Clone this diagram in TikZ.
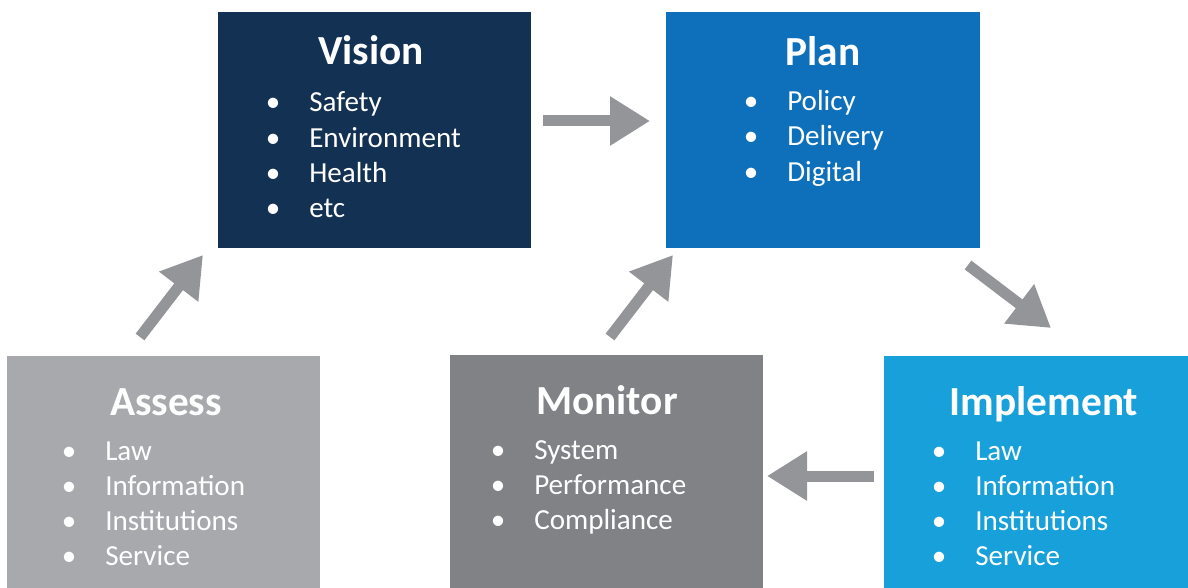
\documentclass[tikz,border=0pt]{standalone}
\usepackage{fontspec}
\setmainfont{Carlito}
\usetikzlibrary{arrows.meta}

\definecolor{visionc}{HTML}{133153}
\definecolor{planc}{HTML}{0E70BA}
\definecolor{implc}{HTML}{18A0DB}
\definecolor{monc}{HTML}{808285}
\definecolor{assc}{HTML}{A7A9AC}
\definecolor{arrc}{HTML}{939598}

\tikzset{
  panel/.style={inner sep=0pt, outer sep=0pt, anchor=north west, draw=none},
  heading/.style={text=white, inner sep=0pt, anchor=base,
    font=\fontsize{31}{36}\selectfont\bfseries},
  itemtext/.style={text=white, inner sep=0pt, anchor=base west,
    font=\fontsize{21.8}{26}\selectfont},
  itemdot/.style={text=white, inner sep=0pt, anchor=base,
    font=\fontsize{21.8}{26}\selectfont},
  flow/.style={draw=arrc, line width=8.25pt,
    -{Triangle[width=35pt,length=30pt]}},
}

% one bullet line: name, bullet x, baseline y, text
\newcommand\listline[4]{%
  \node[itemdot] (#1-dot) at (#2,#3) {\textbullet};
  \node[itemtext] (#1) at (#2+36,#3) {#4};
}

\begin{document}
\begin{tikzpicture}[x=0.75pt,y=-0.75pt]
\useasboundingbox (0,0) rectangle (1188,588);

% panels
\node[panel, fill=visionc, minimum width=234.75pt, minimum height=177pt] (vision) at (218,12) {};
\node[panel, fill=planc,   minimum width=235.5pt,  minimum height=177pt] (plan) at (666,12) {};
\node[panel, fill=implc,   minimum width=228pt,    minimum height=174pt] (implement) at (884,356) {};
\node[panel, fill=monc,    minimum width=234.75pt, minimum height=174.75pt] (monitor) at (450,355) {};
\node[panel, fill=assc,    minimum width=234.75pt, minimum height=174pt] (assess) at (7,356) {};

% Vision
\node[heading] (vision-t) at (371,65) {Vision};
\listline{v1}{273}{112}{Safety}
\listline{v2}{273}{147}{Environment}
\listline{v3}{273}{182}{Health}
\listline{v4}{273}{217}{etc}

% Plan
\node[heading] (plan-t) at (823,66) {Plan};
\listline{p1}{751}{111}{Policy}
\listline{p2}{751}{146}{Delivery}
\listline{p3}{751}{181}{Digital}

% Implement
\node[heading] (implement-t) at (1044,415) {Implement};
\listline{i1}{939}{460}{Law}
\listline{i2}{939}{495}{Information}
\listline{i3}{939}{530}{Institutions}
\listline{i4}{939}{565}{Service}

% Monitor
\node[heading] (monitor-t) at (607,414) {Monitor};
\listline{m1}{498}{459}{System}
\listline{m2}{498}{494}{Performance}
\listline{m3}{498}{529}{Compliance}

% Assess
\node[heading] (assess-t) at (166,415) {Assess};
\listline{a1}{69}{460}{Law}
\listline{a2}{69}{495}{Information}
\listline{a3}{69}{530}{Institutions}
\listline{a4}{69}{565}{Service}

% arrow end points
\coordinate (vp-s) at (543,121);
\coordinate (vp-e) at (650,121);
\coordinate (pi-s) at (968,265);
\coordinate (pi-e) at (1051,328);
\coordinate (im-s) at (874,476);
\coordinate (im-e) at (767,476);
\coordinate (mp-s) at (610,337);
\coordinate (mp-e) at (673,255);
\coordinate (av-s) at (140,337);
\coordinate (av-e) at (203,255);

\draw[flow] (vp-s) -- (vp-e);
\draw[flow] (pi-s) -- (pi-e);
\draw[flow] (im-s) -- (im-e);
\draw[flow] (mp-s) -- (mp-e);
\draw[flow] (av-s) -- (av-e);
\end{tikzpicture}
\end{document}
